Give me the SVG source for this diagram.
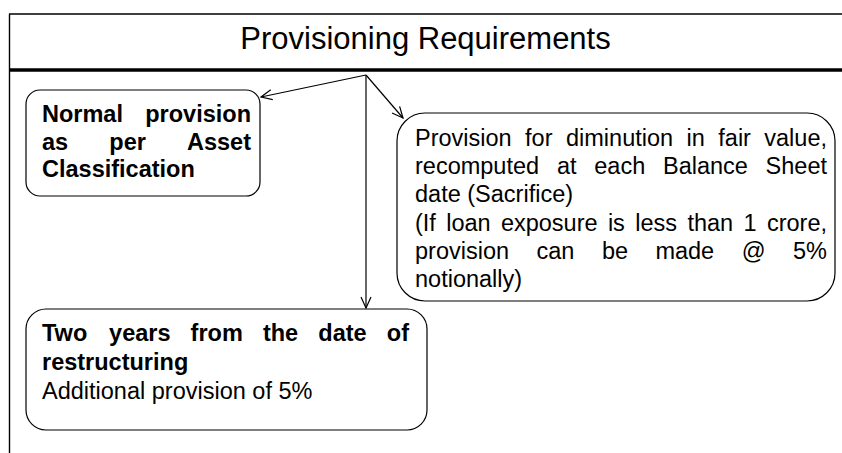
<svg xmlns="http://www.w3.org/2000/svg" width="842" height="453" viewBox="0 0 842 453">
  <style>
    text { font-family: "Liberation Sans", Arial, sans-serif; fill: #000; }
    .title { font-size: 31px; }
    .body { font-size: 23.5px; }
    .bold { font-size: 23.5px; font-weight: bold; }
    .box { fill: #fff; stroke: #000; stroke-width: 1.2; }
    .frame { stroke: #000; fill: none; }
    .link { stroke: #000; stroke-width: 1.2; fill: none; marker-end: url(#open-arrow); }
  </style>
  <defs>
    <marker id="open-arrow" markerUnits="userSpaceOnUse" markerWidth="14" markerHeight="14" refX="11" refY="5" orient="auto" viewBox="-1 -1 14 12">
      <path d="M0,0 L11,5 L0,10" fill="none" stroke="#000" stroke-width="1.2"/>
    </marker>
  </defs>

  <rect width="842" height="453" fill="#fff"/>

  <!-- title frame -->
  <g id="title">
    <path class="frame" d="M9,14 H842" stroke-width="1.6"/>
    <path class="frame" d="M9.5,14 V453" stroke-width="1.4"/>
    <path class="frame" d="M9,70 H842" stroke-width="3.6"/>
    <text class="title" x="425.5" y="49" text-anchor="middle">Provisioning Requirements</text>
  </g>

  <!-- connectors -->
  <g id="connectors">
    <path class="link" d="M366,75 L261,97"/>
    <path class="link" d="M366,75 L403,118"/>
    <path class="link" d="M366,75 V308"/>
  </g>

  <!-- normal provision -->
  <g id="node-normal">
    <rect class="box" x="26" y="90" width="234" height="106" rx="14"/>
    <text class="bold" y="122"><tspan x="42">Normal</tspan><tspan x="251" text-anchor="end">provision</tspan></text>
    <text class="bold" y="149.5"><tspan x="42">as</tspan><tspan x="109.3">per</tspan><tspan x="251" text-anchor="end">Asset</tspan></text>
    <text class="bold" x="42" y="177">Classification</text>
  </g>

  <!-- diminution in fair value -->
  <g id="node-fair-value">
    <rect class="box" x="397" y="113" width="438" height="188" rx="28"/>
    <text class="body" y="146"><tspan x="415">Provision</tspan><tspan x="525.1">for</tspan><tspan x="566">diminution</tspan><tspan x="686.5">in</tspan><tspan x="718.3">fair</tspan><tspan x="827" text-anchor="end">value,</tspan></text>
    <text class="body" y="174.2"><tspan x="415">recomputed</tspan><tspan x="556.9">at</tspan><tspan x="594.3">each</tspan><tspan x="663">Balance</tspan><tspan x="827" text-anchor="end">Sheet</tspan></text>
    <text class="body" x="415" y="202.4">date (Sacrifice)</text>
    <text class="body" y="230.6"><tspan x="415">(If</tspan><tspan x="446.2">loan</tspan><tspan x="500.9">exposure</tspan><tspan x="607.9">is</tspan><tspan x="635.3">less</tspan><tspan x="687.4">than</tspan><tspan x="743.4">1</tspan><tspan x="827" text-anchor="end">crore,</tspan></text>
    <text class="body" y="258.8"><tspan x="415">provision</tspan><tspan x="536.5">can</tspan><tspan x="601.9">be</tspan><tspan x="655.4">made</tspan><tspan x="741.7">@</tspan><tspan x="827" text-anchor="end">5%</tspan></text>
    <text class="body" x="415" y="287">notionally)</text>
  </g>

  <!-- two years from restructuring -->
  <g id="node-two-years">
    <rect class="box" x="26" y="309" width="401" height="121" rx="20"/>
    <text class="bold" y="341"><tspan x="42">Two</tspan><tspan x="109.1">years</tspan><tspan x="190.6">from</tspan><tspan x="262.9">the</tspan><tspan x="318.3">date</tspan><tspan x="409" text-anchor="end">of</tspan></text>
    <text class="bold" x="42" y="370">restructuring</text>
    <text class="body" x="42" y="399">Additional provision of 5%</text>
  </g>
</svg>
